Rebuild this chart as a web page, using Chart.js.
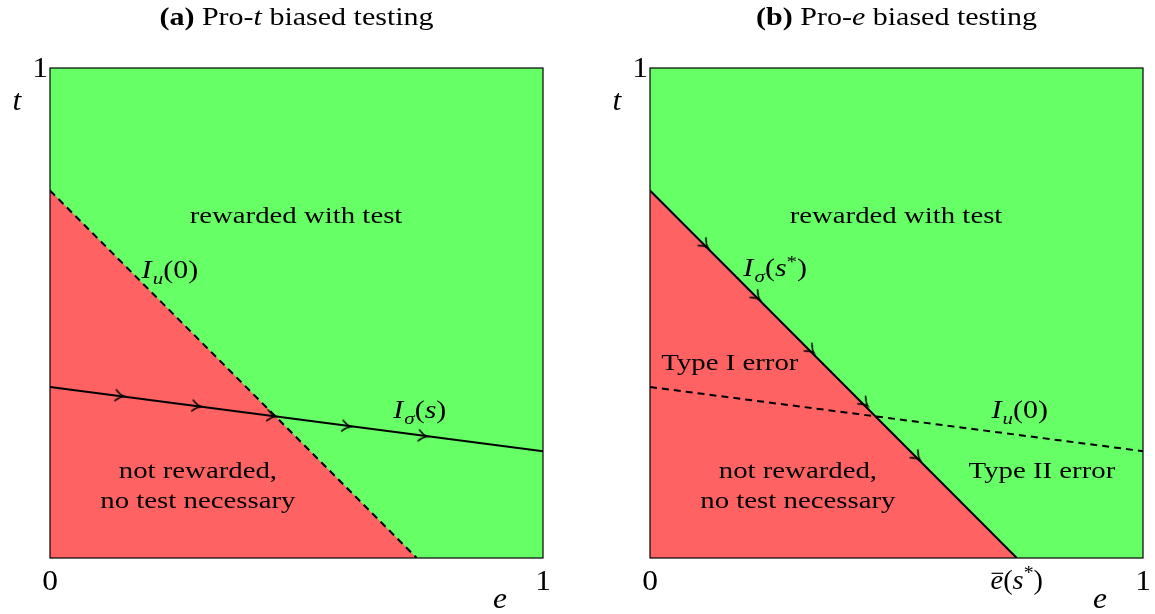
<!DOCTYPE html>
<html lang="en">
<head>
<meta charset="UTF-8">
<title>Biased testing</title>
<script src="https://cdn.jsdelivr.net/npm/chart.js"></script>
<style>
  body { margin: 0; background: #fff; width: 1155px; height: 614px; position: relative; overflow: hidden; }
  .panel { position: absolute; top: 0; width: 577px; height: 614px; }
  #panelA { left: 0; }
  #panelB { left: 600px; }
</style>
</head>
<body>
<div class="panel" id="panelA"><canvas id="chartA"></canvas></div>
<div class="panel" id="panelB"><canvas id="chartB"></canvas></div>
<script>
// boundaries in (e, t) space
var topEdge = [{x: 0, y: 1}, {x: 1, y: 1}];
var steepLine = [{x: 0, y: 0.75}, {x: 0.744, y: 0}];   // I_u(0) in (a), I_sigma(s*) in (b)
var flatLine = [{x: 0, y: 0.349}, {x: 1, y: 0.218}];   // I_sigma(s) in (a), I_u(0) in (b)

// arrow marks along the solid curves
var arrowsA = [{x: 0.142, y: 0.331}, {x: 0.298, y: 0.310}, {x: 0.450, y: 0.290}, {x: 0.602, y: 0.269}, {x: 0.757, y: 0.249}];
var arrowsB = [{x: 0.112, y: 0.639}, {x: 0.217, y: 0.533}, {x: 0.327, y: 0.424}, {x: 0.436, y: 0.316}, {x: 0.542, y: 0.206}];

// tick positions on e axis
var xTicksA = [0, 1];
var xTicksB = [0, 0.744, 1];

var FONT = '"Liberation Serif", "DejaVu Serif", serif';
var HSCALE = 1.2;   // computer-modern is wider than times
var GREEN = '#66ff66';
var RED = '#ff6262';

// text pieces: s = string, st = 'n' | 'i' | 'b', sub / sup / over flags
function R(s, st, extra) { var o = {s: s, st: st || 'n'}; if (extra) for (var k in extra) o[k] = extra[k]; return o; }

function drawRuns(ctx, runs, cx, cy, size, hs) {
  hs = hs || HSCALE;
  ctx.save();
  ctx.textBaseline = 'alphabetic';
  ctx.textAlign = 'left';
  var parts = runs.map(function (r) {
    var sz = (r.sub || r.sup) ? size * 0.7 : size;
    var f = (r.st === 'i' ? 'italic ' : r.st === 'b' ? 'bold ' : '') + sz + 'px ' + FONT;
    ctx.font = f;
    return {r: r, f: f, w: (ctx.measureText(r.s).width + (r.pad || 0)) * hs};
  });
  var total = parts.reduce(function (a, p) { return a + p.w; }, 0);
  var x = cx - total / 2;
  var base = cy + size * 0.33;
  ctx.fillStyle = '#000';
  parts.forEach(function (p) {
    ctx.font = p.f;
    var y = base;
    if (p.r.sub) y += size * 0.24;
    if (p.r.sup) y -= size * 0.38;
    ctx.save();
    ctx.translate(x, y);
    ctx.scale(hs, 1);
    ctx.fillText(p.r.s, 0, 0);
    ctx.restore();
    if (p.r.over) {
      ctx.fillRect(x + 1, base - size * 0.6, p.w - 1, 1.2);
    }
    x += p.w;
  });
  ctx.restore();
}

// arrowhead glyph pointing to +x
function makeArrow() {
  var c = document.createElement('canvas');
  c.width = 16; c.height = 16;
  var g = c.getContext('2d');
  g.strokeStyle = '#000';
  g.lineWidth = 1.5;
  g.lineCap = 'round';
  g.beginPath();
  g.moveTo(3.5, 2.5);
  g.quadraticCurveTo(8, 7, 12, 8);
  g.quadraticCurveTo(8, 9, 3.5, 13.5);
  g.stroke();
  return c;
}
var arrowImg = makeArrow();

function panelPlugin(spec) {
  return {
    id: 'panelText',
    afterDatasetsDraw: function (chart) {
      var ctx = chart.ctx, a = chart.chartArea;
      var xs = chart.scales.x, ys = chart.scales.y;
      ctx.save();
      ctx.strokeStyle = '#000';
      ctx.lineWidth = 1.2;
      ctx.strokeRect(a.left, a.top, a.right - a.left, a.bottom - a.top);
      ctx.restore();
      spec.labels.forEach(function (l) {
        drawRuns(ctx, l.runs, xs.getPixelForValue(l.e), ys.getPixelForValue(l.t), l.size || 24);
      });
      spec.ticks.forEach(function (tk, i) {
        drawRuns(ctx, spec.tickRuns[i], xs.getPixelForValue(tk), a.bottom + 22, spec.tickSize[i], 1.05);
      });
      // y tick "1" and axis names
      drawRuns(ctx, [R('1')], a.left - 10, ys.getPixelForValue(1) - 1, 30, 1.05);
      drawRuns(ctx, [R('t', 'i')], a.left - 33, ys.getPixelForValue(0.935), 30, 1.05);
      drawRuns(ctx, [R('e', 'i')], xs.getPixelForValue(0.913), a.bottom + 40, 30, 1.05);
      drawRuns(ctx, spec.title, (a.left + a.right) / 2, 17, 25);
    }
  };
}

function makeChart(id, spec) {
  return new Chart(document.getElementById(id), {
    type: 'scatter',
    data: {
      datasets: [
        {data: topEdge, showLine: true, fill: 'origin', backgroundColor: GREEN, borderWidth: 0, pointRadius: 0, order: 6},
        {data: steepLine, showLine: true, fill: 'origin', backgroundColor: RED, borderColor: '#000',
         borderWidth: 2, borderDash: spec.steepDash, pointRadius: 0, order: 5},
        {data: flatLine, showLine: true, fill: false, borderColor: '#000', borderWidth: 2,
         borderDash: spec.flatDash, pointRadius: 0, order: 4},
        {data: spec.arrows, showLine: false, pointStyle: arrowImg, pointRadius: 7,
         rotation: spec.arrowAngle, order: 1}
      ]
    },
    options: {
      responsive: false,
      animation: false,
      layout: {padding: {left: 50, right: 34, top: 68, bottom: 56}},
      scales: {
        x: {type: 'linear', min: 0, max: 1, display: false},
        y: {type: 'linear', min: 0, max: 1, display: false}
      },
      plugins: {legend: {display: false}, tooltip: {enabled: false}}
    },
    plugins: [panelPlugin(spec)]
  });
}

['chartA', 'chartB'].forEach(function (id) {
  var c = document.getElementById(id);
  c.width = 577; c.height = 614;
});

makeChart('chartA', {
  steepDash: [7, 5], flatDash: [], arrows: arrowsA, arrowAngle: 7.4,
  title: [R('(a)', 'b'), R(' Pro-'), R('t', 'i'), R(' biased testing')],
  ticks: xTicksA, tickRuns: [[R('0')], [R('1')]], tickSize: [30, 30],
  labels: [
    {e: 0.499, t: 0.70, runs: [R('rewarded with test')]},
    {e: 0.243, t: 0.588, size: 25, runs: [R('I', 'i', {pad: 1}), R('u', 'i', {sub: true}), R('(0)')]},
    {e: 0.75, t: 0.302, size: 25, runs: [R('I', 'i', {pad: 1}), R('σ', 'i', {sub: true}), R('('), R('s', 'i'), R(')')]},
    {e: 0.30, t: 0.18, runs: [R('not rewarded,')]},
    {e: 0.30, t: 0.118, runs: [R('no test necessary')]}
  ]
});

makeChart('chartB', {
  steepDash: [], flatDash: [7, 5], arrows: arrowsB, arrowAngle: 45,
  title: [R('(b)', 'b'), R(' Pro-'), R('e', 'i'), R(' biased testing')],
  ticks: xTicksB, tickRuns: [[R('0')], [R('e', 'i', {over: true}), R('('), R('s', 'i'), R('*', 'n', {sup: true}), R(')')], [R('1')]],
  tickSize: [30, 27, 30],
  labels: [
    {e: 0.499, t: 0.70, runs: [R('rewarded with test')]},
    {e: 0.254, t: 0.592, size: 25, runs: [R('I', 'i', {pad: 1}), R('σ', 'i', {sub: true}), R('('), R('s', 'i'), R('*', 'n', {sup: true}), R(')')]},
    {e: 0.162, t: 0.40, runs: [R('Type I error')]},
    {e: 0.75, t: 0.302, size: 25, runs: [R('I', 'i', {pad: 1}), R('u', 'i', {sub: true}), R('(0)')]},
    {e: 0.795, t: 0.18, runs: [R('Type II error')]},
    {e: 0.30, t: 0.18, runs: [R('not rewarded,')]},
    {e: 0.30, t: 0.118, runs: [R('no test necessary')]}
  ]
});
</script>
</body>
</html>
